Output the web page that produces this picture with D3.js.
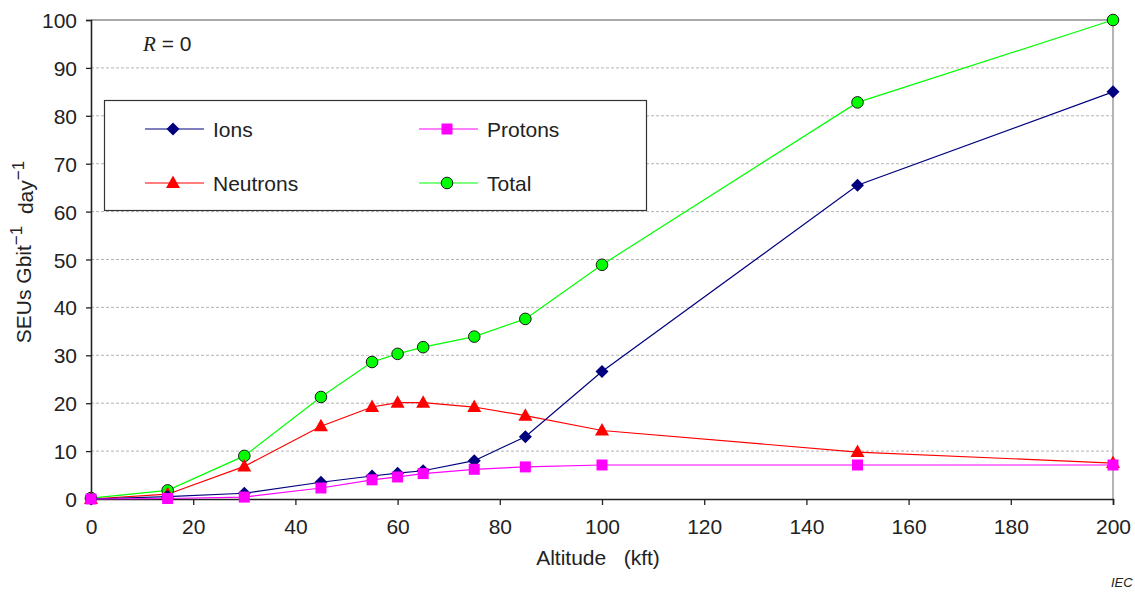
<!DOCTYPE html>
<html>
<head>
<meta charset="utf-8">
<script src="https://cdn.jsdelivr.net/npm/d3@7"></script>
<style>
  html, body { margin: 0; padding: 0; background: #fff; overflow: hidden; }
  svg { display: block; font-family: "Liberation Sans", Arial, sans-serif; }
</style>
</head>
<body>
<svg id="chart" width="1135" height="595"></svg>
<script>
// Altitude points (kft)
const altitude = [0, 15, 30, 45, 55, 60, 65, 75, 85, 100, 150, 200];

// SEU rates (SEUs Gbit^-1 day^-1) per particle type
const ions     = [0, 0.5, 1.2, 3.5, 4.8, 5.4, 5.9, 8.0, 13.0, 26.6, 65.5, 85.0];
const protons  = [0, 0.1, 0.4, 2.3, 4.0, 4.6, 5.3, 6.2, 6.7, 7.1, 7.1, 7.1];
const neutrons = [0, 1.0, 6.8, 15.2, 19.2, 20.1, 20.1, 19.2, 17.4, 14.3, 9.8, 7.5];
const total    = [0.2, 1.8, 9.0, 21.3, 28.6, 30.3, 31.7, 33.9, 37.6, 48.9, 82.8, 100.0];

const xTicks = [0, 20, 40, 60, 80, 100, 120, 140, 160, 180, 200];
const yTicks = [0, 10, 20, 30, 40, 50, 60, 70, 80, 90, 100];

const series = [
  { name: "Ions",     values: ions,     color: "#00007f", marker: "diamond" },
  { name: "Protons",  values: protons,  color: "#ff00ff", marker: "square" },
  { name: "Neutrons", values: neutrons, color: "#ff0000", marker: "triangle" },
  { name: "Total",    values: total,    color: "#00ff00", marker: "circle" }
];

const svg = d3.select("#chart");
const plotLeft = 91, plotRight = 1113, plotTop = 20, plotBottom = 499;

const x = d3.scaleLinear().domain([0, 200]).range([plotLeft, plotRight]);
const y = d3.scaleLinear().domain([0, 100]).range([plotBottom, plotTop]);

// Horizontal gridlines
svg.append("g")
  .selectAll("line")
  .data(yTicks.filter(v => v > 0 && v < 100))
  .join("line")
  .attr("x1", plotLeft).attr("x2", plotRight)
  .attr("y1", d => y(d)).attr("y2", d => y(d))
  .attr("stroke", "#b4b4b4")
  .attr("stroke-width", 1)
  .attr("stroke-dasharray", "3,2");

// Top and right frame
svg.append("line").attr("x1", plotLeft).attr("x2", plotRight).attr("y1", y(100)).attr("y2", y(100))
  .attr("stroke", "#8c8c8c").attr("stroke-width", 1.5);
svg.append("line").attr("x1", plotRight).attr("x2", plotRight).attr("y1", plotTop).attr("y2", plotBottom)
  .attr("stroke", "#b4b4b4").attr("stroke-width", 2);

// Axes
const fontSize = "21px";
const yAxis = svg.append("g")
  .attr("transform", `translate(${plotLeft},0)`)
  .call(d3.axisLeft(y).tickValues(yTicks).tickSize(5).tickPadding(9).tickFormat(d3.format("d")));
const xAxis = svg.append("g")
  .attr("transform", `translate(0,${plotBottom})`)
  .call(d3.axisBottom(x).tickValues(xTicks).tickSize(6).tickPadding(14).tickFormat(d3.format("d")));

[yAxis, xAxis].forEach(g => {
  g.select(".domain").attr("stroke", "#222").attr("stroke-width", 1.6);
  g.selectAll(".tick line").attr("stroke", "#222").attr("stroke-width", 1.3);
  g.selectAll(".tick text").attr("fill", "#222").style("font-size", fontSize)
    .style("font-family", '"Liberation Sans", Arial, sans-serif');
});
yAxis.selectAll(".tick text").attr("dy", "0.36em");

// Axis titles
svg.append("text")
  .attr("x", 598).attr("y", 565)
  .attr("text-anchor", "middle")
  .attr("fill", "#222")
  .style("font-size", fontSize)
  .style("white-space", "pre")
  .attr("xml:space", "preserve")
  .text("Altitude   (kft)");

const yTitle = svg.append("text")
  .attr("transform", `translate(31,252) rotate(-90)`)
  .attr("text-anchor", "middle")
  .attr("fill", "#222")
  .attr("xml:space", "preserve")
  .style("white-space", "pre")
  .style("font-size", fontSize);
yTitle.append("tspan").text("SEUs Gbit");
yTitle.append("tspan").attr("dy", "-0.55em").style("font-size", "17px").text("\u22121");
yTitle.append("tspan").attr("dy", "0.55em").text("  day");
yTitle.append("tspan").attr("dy", "-0.55em").style("font-size", "17px").text("\u22121");

// R = 0 annotation
const rLabel = svg.append("text").attr("x", 143).attr("y", 51).attr("fill", "#222").style("font-size", fontSize);
rLabel.append("tspan").style("font-family", '"Liberation Serif", "Times New Roman", serif').style("font-style", "italic").style("font-size", "21px").text("R");
rLabel.append("tspan").attr("xml:space", "preserve").text(" = 0");

// Marker drawing
function drawMarker(sel, type, color) {
  if (type === "circle") {
    sel.append("circle").attr("r", 5.8).attr("fill", color).attr("stroke", "#1a1a1a").attr("stroke-width", 1);
  } else if (type === "diamond") {
    sel.append("path").attr("d", "M0,-6.5L6.5,0L0,6.5L-6.5,0Z").attr("fill", color);
  } else if (type === "square") {
    sel.append("rect").attr("x", -5.5).attr("y", -5.5).attr("width", 11).attr("height", 11).attr("fill", color);
  } else if (type === "triangle") {
    sel.append("path").attr("d", "M0,-7.5L7,5L-7,5Z").attr("fill", color);
  }
}

// Series lines and markers
const line = d3.line()
  .x((d, i) => x(altitude[i]))
  .y(d => y(d));

const order = [series[3], series[2], series[0], series[1]];
order.forEach(s => {
  svg.append("path")
    .datum(s.values)
    .attr("d", line)
    .attr("fill", "none")
    .attr("stroke", s.color)
    .attr("stroke-width", 1.2);
});
order.forEach(s => {
  s.values.forEach((v, i) => {
    const g = svg.append("g").attr("transform", `translate(${x(altitude[i])},${y(v)})`);
    drawMarker(g, s.marker, s.color);
  });
});

// Legend
svg.append("rect")
  .attr("x", 104.5).attr("y", 100.5).attr("width", 542).attr("height", 110)
  .attr("fill", "#fff").attr("stroke", "#333").attr("stroke-width", 1.2);

const legendPos = [
  { s: series[0], lx: 145, ly: 129 },
  { s: series[1], lx: 419, ly: 129 },
  { s: series[2], lx: 145, ly: 183 },
  { s: series[3], lx: 419, ly: 183 }
];
legendPos.forEach(p => {
  const g = svg.append("g");
  g.append("line").attr("x1", p.lx).attr("x2", p.lx + 59).attr("y1", p.ly).attr("y2", p.ly)
    .attr("stroke", p.s.color).attr("stroke-width", 1.2);
  const m = g.append("g").attr("transform", `translate(${p.lx + 28},${p.ly})`);
  drawMarker(m, p.s.marker, p.s.color);
  g.append("text").attr("x", p.lx + 68).attr("y", p.ly).attr("dy", "0.36em")
    .attr("fill", "#222").style("font-size", fontSize).text(p.s.name);
});

// Source mark
svg.append("text").attr("x", 1111).attr("y", 587)
  .style("font-style", "italic").style("font-size", "13px").attr("fill", "#222").text("IEC");
</script>
</body>
</html>
